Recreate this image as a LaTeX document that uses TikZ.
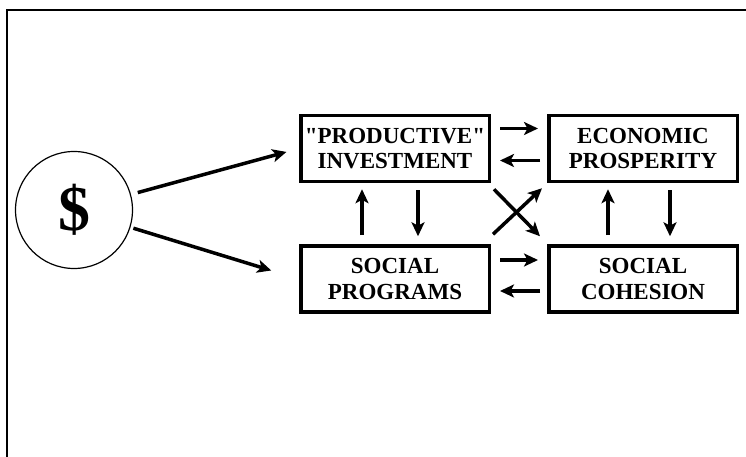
\documentclass[tikz,border=0pt]{standalone}
\usepackage{fontspec}
\setmainfont{Liberation Serif}
\usetikzlibrary{arrows.meta, positioning}

\begin{document}
\begin{tikzpicture}[
    x=1pt, y=1pt,
    node distance=61pt and 56pt,
    block/.style={draw, line width=3.5pt, minimum width=188.5pt, minimum height=66pt, inner sep=1pt, align=center, font=\fontsize{23}{25.5}\selectfont\bfseries},
    money/.style={draw, circle, line width=1.2pt, minimum size=117pt, inner sep=0pt, font=\fontsize{64}{64}\selectfont\bfseries},
    arrow/.style={-{Stealth[length=14pt, width=13pt, inset=3.5pt]}, line width=3.5pt},
    gap/.style 2 args={shorten <=#1, shorten >=#2}
]
    % Page frame
    \useasboundingbox (0,0) rectangle (746,457);
    \draw[line width=1.2pt] (746,447) -- (7,447) -- (7,0);

    % Main entities
    \node[money] (dollar) at (74,247) {\$};
    \node[block] (invest) at (395,308.5) {\textquotedbl PRODUCTIVE\textquotedbl\\INVESTMENT};
    \node[block, right=of invest] (prosper) {ECONOMIC\\PROSPERITY};
    \node[block, below=of invest] (programs) {SOCIAL\\PROGRAMS};
    \node[block, right=of programs] (cohesion) {SOCIAL\\COHESION};

    % Spending
    \draw[arrow, gap={7pt}{13pt}] (dollar) -- (invest.west);
    \draw[arrow, gap={3pt}{29pt}] (dollar) -- (programs.west);

    % Feedback between boxes
    \draw[arrow, gap={9pt}{9pt}] ([yshift=20pt]invest.east) -- ([yshift=20pt]prosper.west);
    \draw[arrow, gap={7pt}{9pt}] ([yshift=-12pt]prosper.west) -- ([yshift=-12pt]invest.east);
    \draw[arrow, gap={9pt}{9pt}] ([yshift=19pt]programs.east) -- ([yshift=19pt]cohesion.west);
    \draw[arrow, gap={7pt}{9pt}] ([yshift=-12pt]cohesion.west) -- ([yshift=-12pt]programs.east);
    \draw[arrow, gap={9pt}{6pt}] ([xshift=-33pt]programs.north) -- ([xshift=-33pt]invest.south);
    \draw[arrow, gap={7pt}{8pt}] ([xshift=23pt]invest.south) -- ([xshift=23pt]programs.north);
    \draw[arrow, gap={9pt}{6pt}] ([xshift=-35pt]cohesion.north) -- ([xshift=-35pt]prosper.south);
    \draw[arrow, gap={7pt}{8pt}] ([xshift=27pt]prosper.south) -- ([xshift=27pt]cohesion.north);

    % Cross links
    \draw[arrow] ([shift={(3pt,-6pt)}]invest.south east) -- ([shift={(-7pt,8pt)}]cohesion.north west);
    \draw[arrow] ([shift={(2pt,10pt)}]programs.north east) -- ([shift={(-5pt,-5pt)}]prosper.south west);

\end{tikzpicture}
\end{document}
